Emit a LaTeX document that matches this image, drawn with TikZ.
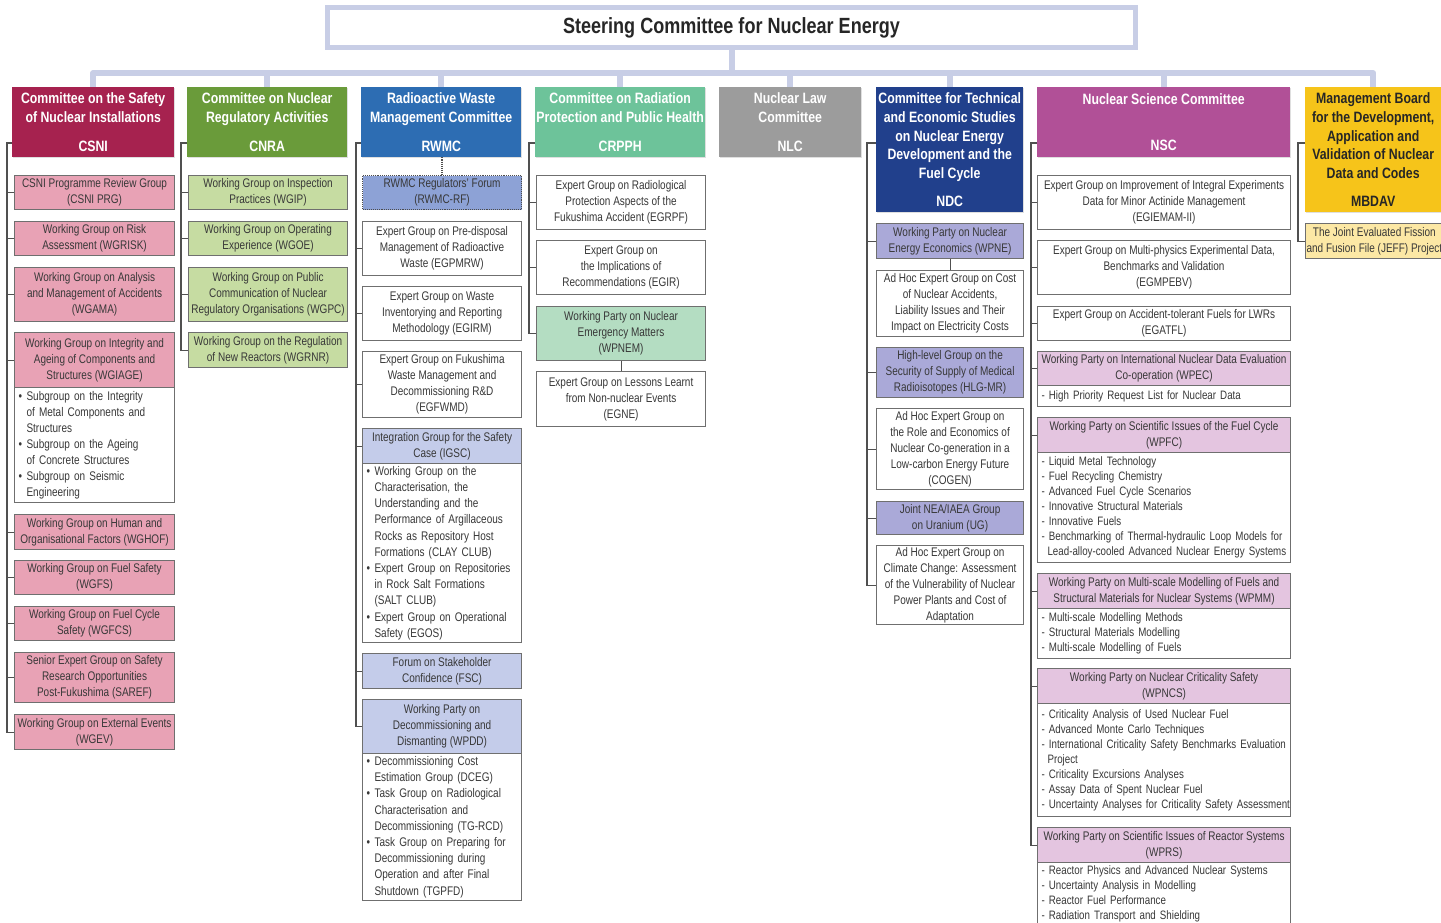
\documentclass[tikz,border=0pt]{standalone}
\usepackage{fontspec}
\setmainfont{Liberation Sans}[FakeStretch=0.80]
\newfontfamily\hdfam{Liberation Sans}[FakeStretch=0.82]
\usetikzlibrary{shadows}
\definecolor{steer}{HTML}{C8CEE6}
\definecolor{treeC}{HTML}{505050}
\definecolor{bordC}{HTML}{6F6F6F}
\definecolor{txtC}{HTML}{383838}
\definecolor{csniH}{HTML}{A6224F}
\definecolor{csniL}{HTML}{E8A2B5}
\definecolor{cnraH}{HTML}{6A9B3A}
\definecolor{cnraL}{HTML}{C6DCA2}
\definecolor{rwmcH}{HTML}{2D6DB3}
\definecolor{rwmcD}{HTML}{8DA2D6}
\definecolor{rwmcL}{HTML}{C4CCEA}
\definecolor{crpphH}{HTML}{6DC39A}
\definecolor{crpphL}{HTML}{B4DDC2}
\definecolor{nlcH}{HTML}{9C9C9C}
\definecolor{ndcH}{HTML}{21408C}
\definecolor{ndcL}{HTML}{AAA9D8}
\definecolor{nscH}{HTML}{B15097}
\definecolor{nscL}{HTML}{E4C5E0}
\definecolor{mbdavH}{HTML}{F6C41A}
\definecolor{mbdavL}{HTML}{FCE8A5}
\newcommand\kidfont{\fontsize{12.5}{16}\selectfont}
\newcommand\nscfont{\fontsize{12.2}{15}\selectfont}
\newcommand\hdfont{\hdfam\bfseries\fontsize{15}{18.7}\selectfont}
\newcommand\bul{\makebox[8pt][l]{\textbullet}}
\newcommand\ind{\hspace*{8pt}}
\newcommand\dind{\hspace*{6pt}}
\newcommand\lline[1]{\mbox{#1}}
\newcommand\orgbx[7]{%
  \pgfmathsetmacro\obW{#4-#2}%
  \pgfmathsetmacro\obH{#5-#3}%
  \node[#6, anchor=north west, minimum width=\obW pt, minimum height=\obH pt] (#1) at (#2,#3) {#7};}
\newcommand\orglist[7]{%
  \pgfmathsetmacro\obW{#4-#2}%
  \pgfmathsetmacro\obH{#5-#3}%
  \pgfmathsetmacro\obT{#4-#2-8}%
  \node[#6, anchor=north west, minimum width=\obW pt, minimum height=\obH pt, text width=\obT pt] (#1) at (#2,#3) {#7};}
\tikzset{
  tree/.style={draw=treeC, line width=1.1pt},
  hdrbox/.style={inner sep=0pt, align=center, text=white, font=\hdfont,
    drop shadow={shadow xshift=1.2pt, shadow yshift=-1.2pt, opacity=0.25}},
  kid/.style={draw=bordC, line width=1.1pt, inner xsep=1pt, inner ysep=0pt, align=center, text=txtC, font=\kidfont},
  lst/.style={kid, fill=white, align=left, inner xsep=4pt},
  nlst/.style={lst, inner xsep=1pt, font=\nscfont},
  bar/.style={draw=steer, line width=6pt},
}
\begin{document}
\begin{tikzpicture}[x=1pt,y=-1pt]
\useasboundingbox[fill=white] (0,0) rectangle (1441,923);
% steering committee
\node[draw=steer, line width=5pt, fill=white, minimum width=808pt, minimum height=40pt, inner sep=0pt,
  font=\hdfam\bfseries\fontsize{22}{24}\selectfont, text=black!85] (sc) at (731.5,27.5) {Steering Committee for Nuclear Energy};
% committee headers
\orgbx{csni}{12}{87}{174}{157}{hdrbox, fill=csniH}{Committee on the Safety\\of Nuclear Installations\\[10pt]CSNI}
\orgbx{cnra}{187}{87}{347}{157}{hdrbox, fill=cnraH}{Committee on Nuclear\\Regulatory Activities\\[10pt]CNRA}
\orgbx{rwmc}{361}{87}{521}{157}{hdrbox, fill=rwmcH}{Radioactive Waste\\Management Committee\\[10pt]RWMC}
\orgbx{crpph}{535}{87}{705}{157}{hdrbox, fill=crpphH}{Committee on Radiation\\Protection and Public Health\\[10pt]CRPPH}
\orgbx{nlc}{719}{87}{861}{157}{hdrbox, fill=nlcH}{Nuclear Law\\Committee\\[10pt]NLC}
\orgbx{ndc}{876}{87}{1023}{212}{hdrbox, fill=ndcH}{Committee for Technical\\and Economic Studies\\on Nuclear Energy\\Development and the\\Fuel Cycle\\[9pt]NDC}
\orgbx{nsc}{1037}{87}{1290}{157}{hdrbox, fill=nscH}{Nuclear Science Committee\\[27pt]NSC}
\orgbx{mbdav}{1305}{87}{1441}{212}{hdrbox, fill=mbdavH, text=black!85}{Management Board\\for the Development,\\Application and\\Validation of Nuclear\\Data and Codes\\[9pt]MBDAV}
% bus bar
\coordinate (bus) at (0,73);
\draw[bar] (sc.south) -- (sc.south |- bus);
\draw[bar, line join=round] (csni.north) -- (csni.north |- bus) -- (mbdav.north |- bus) -- (mbdav.north);
\foreach \n in {cnra,rwmc,crpph,nlc,ndc,nsc} \draw[bar] (\n.north) -- (\n.north |- bus);
% CSNI
\orgbx{prg}{14}{175}{174}{209}{kid, fill=csniL}{CSNI Programme Review Group\\(CSNI PRG)}
\orgbx{wgrisk}{14}{221}{174}{255}{kid, fill=csniL}{Working Group on Risk\\Assessment (WGRISK)}
\orgbx{wgama}{14}{267}{174}{321}{kid, fill=csniL}{Working Group on Analysis\\and Management of Accidents\\(WGAMA)}
\orgbx{wgiageh}{14}{332}{174}{387}{kid, fill=csniL}{Working Group on Integrity and\\Ageing of Components and\\Structures (WGIAGE)}
\orglist{wgiagel}{14}{387}{174}{502}{lst}{\bul Subgroup on the Integrity\\\ind of Metal Components and\\\ind Structures\\\bul Subgroup on the Ageing\\\ind of Concrete Structures\\\bul Subgroup on Seismic\\\ind Engineering}
\orgbx{wghof}{14}{514}{174}{549}{kid, fill=csniL}{Working Group on Human and\\Organisational Factors (WGHOF)}
\orgbx{wgfs}{14}{560}{174}{594}{kid, fill=csniL}{Working Group on Fuel Safety\\(WGFS)}
\orgbx{wgfcs}{14}{606}{174}{640}{kid, fill=csniL}{Working Group on Fuel Cycle\\Safety (WGFCS)}
\orgbx{saref}{14}{652}{174}{702}{kid, fill=csniL}{Senior Expert Group on Safety\\Research Opportunities\\Post-Fukushima (SAREF)}
\orgbx{wgev}{14}{714}{174}{749}{kid, fill=csniL}{Working Group on External Events\\(WGEV)}
\coordinate (csniT) at (7,143);
\draw[tree] (csni.west |- csniT) -- (csniT) |- (wgev.west);
\foreach \n in {prg,wgrisk,wgama,wgiageh,wghof,wgfs,wgfcs,saref} \draw[tree] (\n.west) -- (\n.west -| csniT);
% CNRA
\orgbx{wgip}{188}{175}{347}{209}{kid, fill=cnraL}{Working Group on Inspection\\Practices (WGIP)}
\orgbx{wgoe}{188}{221}{347}{255}{kid, fill=cnraL}{Working Group on Operating\\Experience (WGOE)}
\orgbx{wgpc}{188}{267}{347}{321}{kid, fill=cnraL}{Working Group on Public\\Communication of Nuclear\\Regulatory Organisations (WGPC)}
\orgbx{wgrnr}{188}{332}{347}{367}{kid, fill=cnraL}{Working Group on the Regulation\\of New Reactors (WGRNR)}
\coordinate (cnraT) at (181,143);
\draw[tree] (cnra.west |- cnraT) -- (cnraT) |- (wgrnr.west);
\foreach \n in {wgip,wgoe,wgpc} \draw[tree] (\n.west) -- (\n.west -| cnraT);
% RWMC
\orgbx{rwmcrf}{362}{175}{521}{209}{kid, fill=rwmcD, draw=black!70, densely dotted}{RWMC Regulators' Forum\\(RWMC-RF)}
\orgbx{egpmrw}{362}{221}{521}{275}{kid, fill=white}{Expert Group on Pre-disposal\\Management of Radioactive\\Waste (EGPMRW)}
\orgbx{egirm}{362}{286}{521}{340}{kid, fill=white}{Expert Group on Waste\\Inventorying and Reporting\\Methodology (EGIRM)}
\orgbx{egfwmd}{362}{351}{521}{417}{kid, fill=white}{Expert Group on Fukushima\\Waste Management and\\Decommissioning R\&D\\(EGFWMD)}
\orgbx{igsch}{362}{428}{521}{463}{kid, fill=rwmcL}{Integration Group for the Safety\\Case (IGSC)}
\orglist{igscl}{362}{463}{521}{642}{lst, font=\fontsize{12.5}{16.2}\selectfont}{\bul Working Group on the\\\ind Characterisation, the\\\ind Understanding and the\\\ind Performance of Argillaceous\\\ind Rocks as Repository Host\\\ind Formations (CLAY CLUB)\\\bul Expert Group on Repositories\\\ind in Rock Salt Formations\\\ind (SALT CLUB)\\\bul Expert Group on Operational\\\ind Safety (EGOS)}
\orgbx{fsc}{362}{653}{521}{688}{kid, fill=rwmcL}{Forum on Stakeholder\\Confidence (FSC)}
\orgbx{wpddh}{362}{699}{521}{753}{kid, fill=rwmcL}{Working Party on\\Decommissioning and\\Dismanting (WPDD)}
\orglist{wpddl}{362}{753}{521}{900}{lst, font=\fontsize{12.5}{16.2}\selectfont}{\bul Decommissioning Cost\\\ind Estimation Group (DCEG)\\\bul Task Group on Radiological\\\ind Characterisation and\\\ind Decommissioning (TG-RCD)\\\bul Task Group on Preparing for\\\ind Decommissioning during\\\ind Operation and after Final\\\ind Shutdown (TGPFD)}
\coordinate (rwmcT) at (356,143);
\draw[tree] (rwmc.west |- rwmcT) -- (rwmcT) |- (wpddh.west);
\foreach \n in {egpmrw,egirm,egfwmd,igsch,fsc} \draw[tree] (\n.west) -- (\n.west -| rwmcT);
\draw[tree, densely dotted, line width=1.4pt] (rwmc.south -| rwmcrf.north) -- (rwmcrf.north);
% CRPPH
\orgbx{egrpf}{536}{175}{705}{229}{kid, fill=white}{Expert Group on Radiological\\Protection Aspects of the\\Fukushima Accident (EGRPF)}
\orgbx{egir}{536}{240}{705}{294}{kid, fill=white}{Expert Group on\\the Implications of\\Recommendations (EGIR)}
\orgbx{wpnem}{536}{306}{705}{360}{kid, fill=crpphL}{Working Party on Nuclear\\Emergency Matters\\(WPNEM)}
\orgbx{egne}{536}{371}{705}{426}{kid, fill=white}{Expert Group on Lessons Learnt\\from Non-nuclear Events\\(EGNE)}
\coordinate (crpphT) at (529,143);
\draw[tree] (crpph.west |- crpphT) -- (crpphT) |- (wpnem.west);
\foreach \n in {egrpf,egir} \draw[tree] (\n.west) -- (\n.west -| crpphT);
\draw[tree] (wpnem.south) -- (egne.north);
% NDC
\orgbx{wpne}{876}{223}{1023}{258}{kid, fill=ndcL}{Working Party on Nuclear\\Energy Economics (WPNE)}
\orgbx{adhoc}{876}{270}{1023}{336}{kid, fill=white}{Ad Hoc Expert Group on Cost\\of Nuclear Accidents,\\Liability Issues and Their\\Impact on Electricity Costs}
\orgbx{hlg}{876}{347}{1023}{397}{kid, fill=ndcL}{High-level Group on the\\Security of Supply of Medical\\Radioisotopes (HLG-MR)}
\orgbx{cogen}{876}{408}{1023}{489}{kid, fill=white}{Ad Hoc Expert Group on\\the Role and Economics of\\Nuclear Co-generation in a\\Low-carbon Energy Future\\(COGEN)}
\orgbx{ug}{876}{501}{1023}{534}{kid, fill=ndcL}{Joint NEA/IAEA Group\\on Uranium (UG)}
\orgbx{climate}{876}{545}{1023}{624}{kid, fill=white}{Ad Hoc Expert Group on\\Climate Change: Assessment\\of the Vulnerability of Nuclear\\Power Plants and Cost of\\Adaptation}
\coordinate (ndcT) at (867,143);
\draw[tree] (ndc.west |- ndcT) -- (ndcT) |- (climate.west);
\foreach \n in {wpne,hlg,cogen,ug} \draw[tree] (\n.west) -- (\n.west -| ndcT);
\draw[tree] (wpne.south) -- (adhoc.north);
% NSC
\orgbx{egiemam}{1037}{175}{1290}{229}{kid, fill=white}{Expert Group on Improvement of Integral Experiments\\Data for Minor Actinide Management\\(EGIEMAM-II)}
\orgbx{egmpebv}{1037}{240}{1290}{294}{kid, fill=white}{Expert Group on Multi-physics Experimental Data,\\Benchmarks and Validation\\(EGMPEBV)}
\orgbx{egatfl}{1037}{306}{1290}{340}{kid, fill=white}{Expert Group on Accident-tolerant Fuels for LWRs\\(EGATFL)}
\orgbx{wpech}{1037}{351}{1290}{385}{kid, fill=nscL}{Working Party on International Nuclear Data Evaluation\\Co-operation (WPEC)}
\orglist{wpecl}{1037}{385}{1290}{406}{nlst}{\lline{- High Priority Request List for Nuclear Data}}
\orgbx{wpfch}{1037}{417}{1290}{452}{kid, fill=nscL}{Working Party on Scientific Issues of the Fuel Cycle\\(WPFC)}
\orglist{wpfcl}{1037}{452}{1290}{562}{nlst}{\lline{- Liquid Metal Technology}\\\lline{- Fuel Recycling Chemistry}\\\lline{- Advanced Fuel Cycle Scenarios}\\\lline{- Innovative Structural Materials}\\\lline{- Innovative Fuels}\\\lline{- Benchmarking of Thermal-hydraulic Loop Models for}\\\lline{\dind Lead-alloy-cooled Advanced Nuclear Energy Systems}}
\orgbx{wpmmh}{1037}{573}{1290}{608}{kid, fill=nscL}{Working Party on Multi-scale Modelling of Fuels and\\Structural Materials for Nuclear Systems (WPMM)}
\orglist{wpmml}{1037}{608}{1290}{658}{nlst}{\lline{- Multi-scale Modelling Methods}\\\lline{- Structural Materials Modelling}\\\lline{- Multi-scale Modelling of Fuels}}
\orgbx{wpncsh}{1037}{668}{1290}{703}{kid, fill=nscL}{Working Party on Nuclear Criticality Safety\\(WPNCS)}
\orglist{wpncsl}{1037}{703}{1290}{816}{nlst}{\lline{- Criticality Analysis of Used Nuclear Fuel}\\\lline{- Advanced Monte Carlo Techniques}\\\lline{- International Criticality Safety Benchmarks Evaluation}\\\lline{\dind Project}\\\lline{- Criticality Excursions Analyses}\\\lline{- Assay Data of Spent Nuclear Fuel}\\\lline{- Uncertainty Analyses for Criticality Safety Assessment}}
\orgbx{wprsh}{1037}{827}{1290}{862}{kid, fill=nscL}{Working Party on Scientific Issues of Reactor Systems\\(WPRS)}
\orglist{wprsl}{1037}{862}{1290}{925}{nlst}{\lline{- Reactor Physics and Advanced Nuclear Systems}\\\lline{- Uncertainty Analysis in Modelling}\\\lline{- Reactor Fuel Performance}\\\lline{- Radiation Transport and Shielding}}
\coordinate (nscT) at (1031,143);
\draw[tree] (nsc.west |- nscT) -- (nscT) |- (wprsh.west);
\foreach \n in {egiemam,egmpebv,egatfl,wpech,wpfch,wpmmh,wpncsh} \draw[tree] (\n.west) -- (\n.west -| nscT);
% MBDAV
\orgbx{jeff}{1305}{223}{1441}{258}{kid, fill=mbdavL}{The Joint Evaluated Fission\\and Fusion File (JEFF) Project}
\coordinate (mbdavT) at (1298,143);
\draw[tree] (mbdav.west |- mbdavT) -- (mbdavT) |- (jeff.west);
\end{tikzpicture}
\end{document}
